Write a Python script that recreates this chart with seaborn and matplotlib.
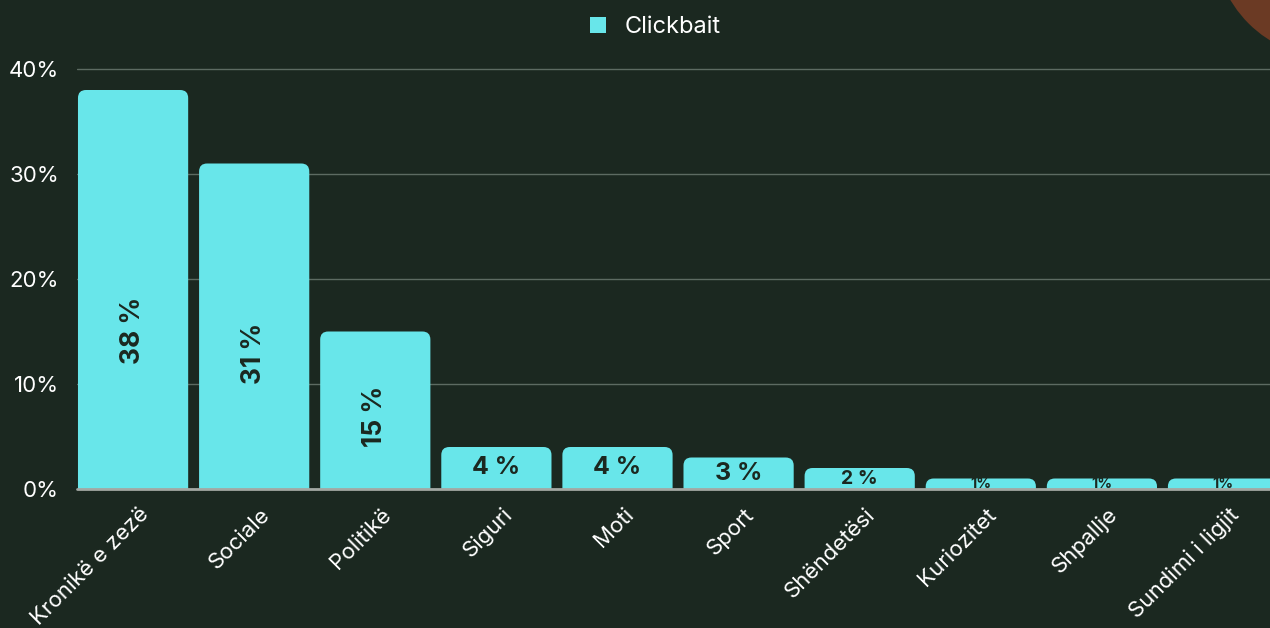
import seaborn as sns
import pandas as pd
import matplotlib.pyplot as plt
from matplotlib.patches import FancyBboxPatch, Circle, Patch
from matplotlib.transforms import ScaledTranslation

# --- Data ---
categories = ["Kronikë e zezë", "Sociale", "Politikë", "Siguri", "Moti",
              "Sport", "Shëndetësi", "Kuriozitet", "Shpallje", "Sundimi i ligjit"]
clickbait = [38, 31, 15, 4, 4, 3, 2, 1, 1, 1]
value_labels = ["38 %", "31 %", "15 %", "4 %", "4 %", "3 %", "2 %", "1%", "1%", "1%"]
y_ticks = [0, 10, 20, 30, 40]
y_tick_labels = ["0%", "10%", "20%", "30%", "40%"]
series_name = "Clickbait"

df = pd.DataFrame({"category": categories, "value": clickbait})

bg = "#1b2820"
bar_color = "#68e6ea"
W, H = 1270, 628

sns.set_theme(style="dark")
plt.rcParams["font.family"] = ["Inter", "DejaVu Sans"]

fig = plt.figure(figsize=(W / 100, H / 100), dpi=100, facecolor=bg)
ax = fig.add_axes([77 / W, (H - 489) / H, 1193 / W, 423.15 / H])
ax.set_facecolor(bg)

sns.barplot(data=df, x="category", y="value", color=bar_color,
            width=0.91, saturation=1, ax=ax)

ax.set_xlim(-0.463, 9.388)
ax.set_ylim(0, 40.3)

# replace bars with top-rounded versions (bottom corners clipped by the axis)
px_x = 121.1
px_y = 10.5
for p in list(ax.patches):
    x0, w, h = p.get_x(), p.get_width(), p.get_height()
    r = min(8, h * px_y * 0.8) / px_x
    rb = FancyBboxPatch((x0, -3), w, h + 3,
                        boxstyle=f"round,pad=0,rounding_size={r}",
                        mutation_aspect=px_x / px_y,
                        facecolor=bar_color, edgecolor="none", zorder=2)
    ax.add_patch(rb)
    p.remove()

# value labels inside bars
for i, (v, lab) in enumerate(zip(clickbait, value_labels)):
    if v >= 10:
        ax.text(i, v / 2 - 0.0027 * v ** 2, lab, rotation=90, ha="center",
                va="center", fontsize=19, fontweight="bold", color=bg, zorder=3)
    else:
        size = 18 if v >= 3 else (14 if v == 2 else 10.5)
        ax.text(i, v / 2, lab, ha="center", va="center",
                fontsize=size, fontweight="bold", color=bg, zorder=3)

# axes styling
ax.set_xlabel("")
ax.set_ylabel("")
ax.set_yticks(y_ticks)
ax.set_yticklabels(y_tick_labels)
ax.grid(axis="y", color="#5d6b62", linewidth=1)
ax.grid(axis="x", visible=False)
for s in ax.spines.values():
    s.set_visible(False)
ax.axhline(0, color="#a3a8a3", linewidth=2, zorder=4, clip_on=False)
ax.tick_params(axis="y", length=0, pad=13, labelsize=16, labelcolor="white")
ax.tick_params(axis="x", length=0, pad=16, labelsize=16, labelcolor="white")
offset = ScaledTranslation(9 / 72, 0, fig.dpi_scale_trans)
for t in ax.get_xticklabels():
    t.set_rotation(45)
    t.set_ha("right")
    t.set_va("center")
    t.set_rotation_mode("anchor")
    t.set_transform(t.get_transform() + offset)

# legend
fig.legend(handles=[Patch(facecolor=bar_color, edgecolor="none", label=series_name)],
           loc="upper center", bbox_to_anchor=(0.516, 1.008), frameon=False,
           fontsize=17, labelcolor="white", handlelength=0.7, handleheight=0.7,
           handletextpad=0.8)

# decorative circle in the corner
fig.add_artist(Circle((1332, 688), 118, transform=None,
                      facecolor="#6b3a24", edgecolor="none"))

fig.savefig("out.png", dpi=100, facecolor=bg)
